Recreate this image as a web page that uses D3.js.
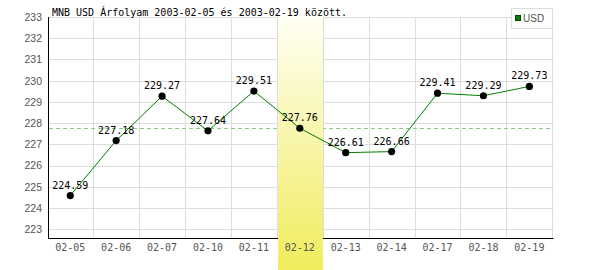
<!DOCTYPE html>
<html>
<head>
<meta charset="utf-8">
<script src="https://cdn.jsdelivr.net/npm/d3@7/dist/d3.min.js"></script>
<style>
  body { margin: 0; background: #fff; }
  svg { display: block; }
</style>
</head>
<body>
<div id="vis"></div>
<script>
var dates = ['02-05', '02-06', '02-07', '02-10', '02-11', '02-12', '02-13', '02-14', '02-17', '02-18', '02-19'];
var usdRates = [224.59, 227.18, 229.27, 227.64, 229.51, 227.76, 226.61, 226.66, 229.41, 229.29, 229.73];
var yTicks = [223, 224, 225, 226, 227, 228, 229, 230, 231, 232, 233];
var highlightDate = '02-12';
var title = 'MNB USD Árfolyam 2003-02-05 és 2003-02-19 között.';

var width = 600;
var height = 270;
var plotLeft = 48, plotRight = 552.5, plotTop = 17, plotBottom = 238;

var svg = d3.select('#vis').append('svg')
    .attr('width', width)
    .attr('height', height);

var x = d3.scaleBand().domain(dates).range([47.3, 552.3]);
var y = d3.scaleLinear().domain([222.59, 233]).range([plotBottom, plotTop]);

function px(v) { return Math.round(v) + 0.5; }

// grid
var grid = svg.append('g');
grid.selectAll('line.h').data(yTicks).enter().append('line')
    .attr('x1', plotLeft).attr('x2', px(plotRight))
    .attr('y1', function(d) { return px(y(d)); })
    .attr('y2', function(d) { return px(y(d)); })
    .attr('stroke', '#dddddd');
grid.selectAll('line.v').data(dates).enter().append('line')
    .attr('x1', function(d) { return px(x(d) + x.bandwidth()); })
    .attr('x2', function(d) { return px(x(d) + x.bandwidth()); })
    .attr('y1', plotTop).attr('y2', plotBottom)
    .attr('stroke', '#dddddd');

// axes
var yAxis = d3.axisLeft(y).tickValues(yTicks).tickSize(0).tickPadding(6)
    .tickFormat(d3.format('d'));
var yG = svg.append('g').attr('transform', 'translate(' + plotLeft + ',0)').call(yAxis);
yG.select('.domain').remove();
yG.selectAll('text').attr('fill', '#555').style('font-family', 'Liberation Sans, sans-serif').style('font-size', '10.5px');

var xAxis = d3.axisBottom(x).tickSize(0).tickPadding(6);
var xG = svg.append('g').attr('transform', 'translate(0,' + plotBottom + ')').call(xAxis);
xG.select('.domain').remove();
xG.selectAll('text').attr('fill', '#555').style('font-family', 'DejaVu Sans Mono, monospace').style('font-size', '10px');

svg.append('line').attr('x1', px(plotLeft)).attr('x2', px(plotLeft)).attr('y1', plotTop).attr('y2', plotBottom + 1).attr('stroke', '#000');
svg.append('line').attr('x1', plotLeft).attr('x2', plotRight + 1).attr('y1', px(plotBottom)).attr('y2', px(plotBottom)).attr('stroke', '#000');

// reference line at highlighted day's value
var refValue = usdRates[dates.indexOf(highlightDate)];
svg.append('line')
    .attr('x1', plotLeft + 1).attr('x2', plotRight)
    .attr('y1', px(y(refValue))).attr('y2', px(y(refValue)))
    .attr('stroke', '#88cc88').attr('stroke-dasharray', '4,3');

// highlighted band
var grad = svg.append('defs').append('linearGradient')
    .attr('id', 'hl').attr('x1', 0).attr('x2', 0).attr('y1', 0).attr('y2', 1);
grad.append('stop').attr('offset', '0%').attr('stop-color', '#fffff4');
grad.append('stop').attr('offset', '100%').attr('stop-color', '#f0ec5c');
svg.append('rect')
    .attr('x', Math.round(x(highlightDate)) + 1)
    .attr('y', plotTop)
    .attr('width', Math.round(x.bandwidth()) - 1)
    .attr('height', height - plotTop)
    .attr('fill', 'url(#hl)');
xG.raise();

// series
var line = d3.line()
    .x(function(d, i) { return x(dates[i]) + x.bandwidth() / 2; })
    .y(function(d) { return y(d); });
svg.append('path').datum(usdRates)
    .attr('d', line)
    .attr('fill', 'none')
    .attr('stroke', '#008000')
    .attr('stroke-width', 1);

svg.selectAll('circle.pt').data(usdRates).enter().append('circle')
    .attr('cx', function(d, i) { return x(dates[i]) + x.bandwidth() / 2; })
    .attr('cy', function(d) { return y(d); })
    .attr('r', 3.6)
    .attr('fill', '#000');

svg.selectAll('text.val').data(usdRates).enter().append('text')
    .attr('x', function(d, i) { return x(dates[i]) + x.bandwidth() / 2; })
    .attr('y', function(d) { return y(d) - 7; })
    .attr('text-anchor', 'middle')
    .style('font-family', 'DejaVu Sans Mono, monospace')
    .style('font-size', '10px')
    .attr('fill', '#000')
    .text(function(d) { return d.toFixed(2); });

// title
svg.append('text')
    .attr('x', 52).attr('y', 15.5)
    .style('font-family', 'DejaVu Sans Mono, monospace')
    .style('font-size', '10px')
    .attr('fill', '#000')
    .text(title);

// legend
var lg = svg.append('g');
lg.append('rect').attr('x', 511.5).attr('y', 8.5).attr('width', 41).attr('height', 20)
    .attr('fill', '#fff').attr('stroke', '#dddddd');
lg.append('rect').attr('x', 515.5).attr('y', 15.5).attr('width', 5).attr('height', 5)
    .attr('fill', '#008000').attr('stroke', '#004400');
lg.append('text').attr('x', 523).attr('y', 22)
    .style('font-family', 'Liberation Sans, sans-serif').style('font-size', '10px')
    .attr('fill', '#555').text('USD');
</script>
</body>
</html>
